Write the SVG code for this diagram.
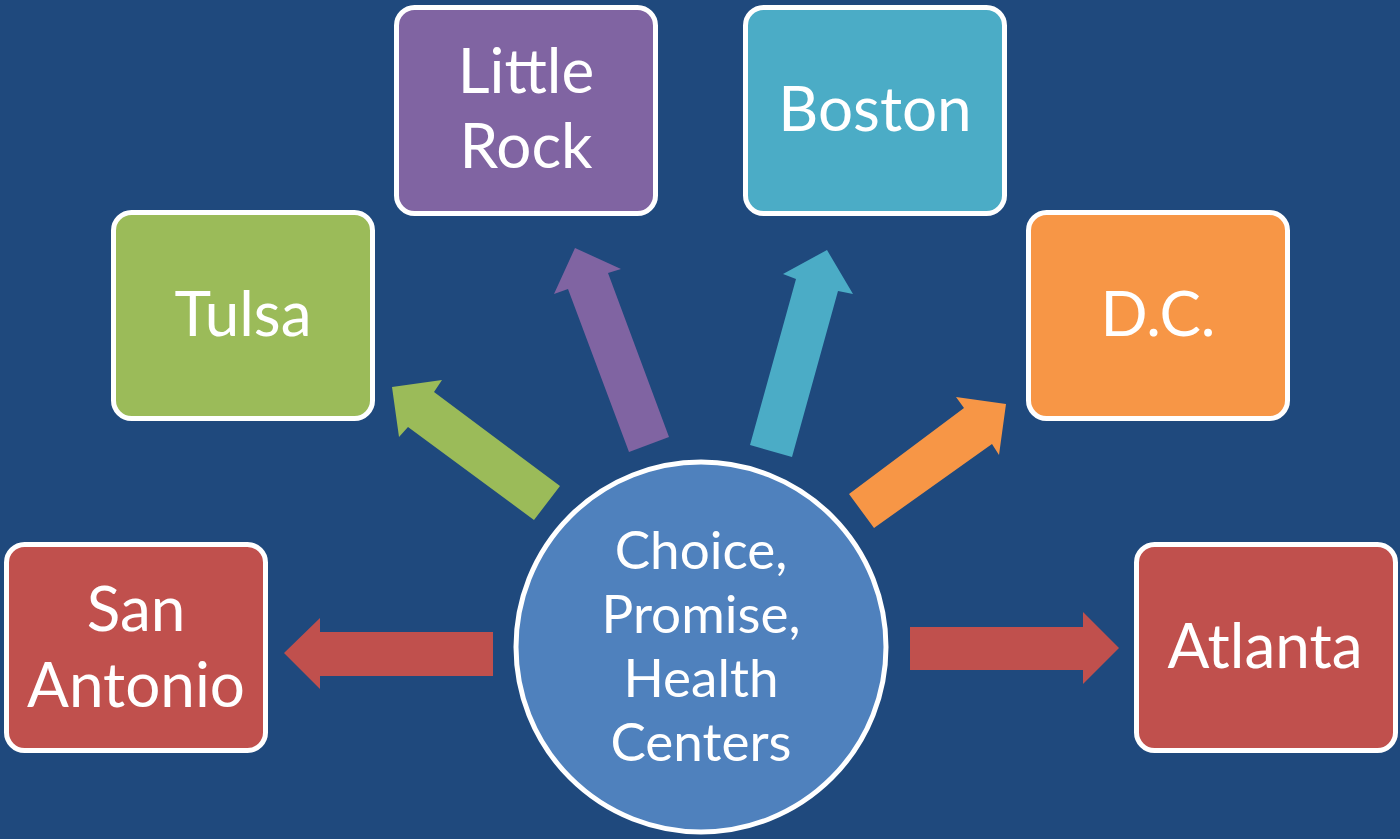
<svg xmlns="http://www.w3.org/2000/svg" width="1400" height="839" viewBox="0 0 1400 839">
<style>
.box{stroke:#fff;stroke-width:5}
.t{font-family:Lato,"Open Sans","Liberation Sans",sans-serif;fill:#fff;text-anchor:middle;font-size:62px}
.c{font-size:53px}
</style>
<rect width="1400" height="839" fill="#1F497D"/>
<g id="connectors">
<polygon points="493,632 320,632 320,618 284,653 320,689 320,676 493,676" fill="#C0504D"/>
<polygon points="910,627 1083,627 1083,612 1119,648 1083,684 1083,670 910,670" fill="#C0504D"/>
<polygon points="392,387 442,380 434,392 560,486 534,520 408,427 399,437" fill="#9BBB59"/>
<polygon points="575,248 621,269 608,273 669,437 629,452 568,289 554,294" fill="#8064A2"/>
<polygon points="827,250 853,294 838,291 792,457 750,445 796,279 783,274" fill="#4BACC6"/>
<polygon points="1006,404 999,455 992,444 874,528 849,494 964,408 956,397" fill="#F79646"/>
</g>
<g id="center">
<circle cx="701" cy="647" r="185" fill="#4F81BD" stroke="#fff" stroke-width="5"/>
<text class="t c" x="701" y="569">Choice,</text>
<text class="t c" x="701" y="633">Promise,</text>
<text class="t c" x="701" y="697">Health</text>
<text class="t c" x="701" y="761">Centers</text>
</g>
<g id="san-antonio">
<rect class="box" x="6.5" y="544.5" width="259" height="206" rx="18" fill="#C0504D"/>
<text class="t" x="136" y="631">San</text>
<text class="t" x="136" y="707">Antonio</text>
</g>
<g id="tulsa">
<rect class="box" x="113.5" y="212.5" width="259" height="206" rx="18" fill="#9BBB59"/>
<text class="t" x="243" y="336">Tulsa</text>
</g>
<g id="little-rock">
<rect class="box" x="396.5" y="7.5" width="259" height="206" rx="18" fill="#8064A2"/>
<text class="t" x="526" y="93">Little</text>
<text class="t" x="526" y="168">Rock</text>
</g>
<g id="boston">
<rect class="box" x="745.5" y="7.5" width="259" height="206" rx="18" fill="#4BACC6"/>
<text class="t" x="875" y="131">Boston</text>
</g>
<g id="dc">
<rect class="box" x="1028.5" y="212.5" width="259" height="206" rx="18" fill="#F79646"/>
<text class="t" x="1158" y="336">D.C.</text>
</g>
<g id="atlanta">
<rect class="box" x="1136.5" y="544.5" width="259" height="206" rx="18" fill="#C0504D"/>
<text class="t" x="1265" y="668">Atlanta</text>
</g>
</svg>
